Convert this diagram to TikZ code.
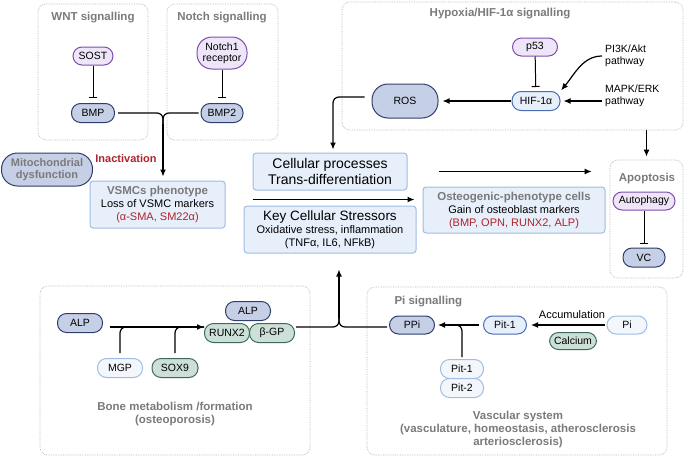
\documentclass[tikz,border=0pt]{standalone}
\usepackage{fontspec}
\setmainfont{Liberation Sans}
\usetikzlibrary{arrows.meta}
\definecolor{navy}{HTML}{2F3F6B}
\definecolor{slate}{HTML}{C5CFE6}
\definecolor{violet}{HTML}{7E4EAD}
\definecolor{lilac}{HTML}{EEE6F8}
\definecolor{skyline}{HTML}{9FBDE2}
\definecolor{sky}{HTML}{E6EFFA}
\definecolor{hifline}{HTML}{4A6DB3}
\definecolor{sage}{HTML}{CDE0D8}
\definecolor{pine}{HTML}{3E6A5E}
\definecolor{pale}{HTML}{F3F7FB}
\definecolor{caption}{HTML}{7A7A7A}
\definecolor{marker}{HTML}{B0232A}
\definecolor{frame}{HTML}{B3B3B3}
\newcommand{\boxhead}[1]{{\fontsize{11.5}{13}\selectfont\bfseries\color{caption}#1}}

\begin{document}
\begin{tikzpicture}[x=1pt,y=-1pt,
  group/.style={draw=frame,densely dotted,line width=0.7pt,rounded corners=8pt},
  title/.style={font=\fontsize{11.5}{13}\selectfont\bfseries,text=caption,align=center},
  pill/.style={draw,rectangle,rounded corners=9pt,line width=1pt,minimum height=19pt,
    inner sep=1pt,align=center,font=\fontsize{10.5}{12}\selectfont},
  slatepill/.style={pill,fill=slate,draw=navy},
  purplepill/.style={pill,fill=lilac,draw=violet},
  skypill/.style={pill,fill=sky,draw=hifline},
  greenpill/.style={pill,fill=sage,draw=pine},
  palepill/.style={pill,fill=pale,draw=skyline},
  panel/.style={draw=skyline,fill=sky,line width=1pt,rounded corners=3pt,align=center,
    inner sep=2pt,font=\fontsize{11}{13}\selectfont},
  arrow/.style={-{Latex[length=7pt,width=6pt]},line width=1.2pt},
  inhibit/.style={-{Bar[width=8pt]},line width=1pt},
  link/.style={line width=1.2pt,rounded corners=6pt}
]
\useasboundingbox (0,0) rectangle (685,461);

% signalling groups
\node[group,minimum width=110pt,minimum height=136pt] (wntbox) at (93,72) {};
\node[group,minimum width=111pt,minimum height=136pt] (notchbox) at (222.5,72) {};
\node[group,minimum width=341pt,minimum height=128pt] (hypbox) at (512.5,66) {};
\node[group,minimum width=73pt,minimum height=118pt] (apobox) at (646.5,219) {};
\node[group,minimum width=270pt,minimum height=169pt] (bonebox) at (175,370.5) {};
\node[group,minimum width=300pt,minimum height=168pt] (pibox) at (517,371) {};

\node[title] (wnttitle) at (93,18) {WNT signalling};
\node[title] (notchtitle) at (222,18) {Notch signalling};
\node[title] (hyptitle) at (500,14) {Hypoxia/HIF-1α signalling};
\node[title] (apotitle) at (647,179) {Apoptosis};
\node[title,anchor=west] (pititle) at (391,302) {Pi signalling};
\node[title] (bonetitle) at (175,414) {Bone metabolism /formation\\(osteoporosis)};
\node[title] (vasctitle) at (518,430) {Vascular system\\(vasculature, homeostasis, atherosclerosis\\arteriosclerosis)};

% WNT / Notch
\node[purplepill,minimum width=40pt,minimum height=18pt] (sost) at (93,56) {SOST};
\node[slatepill,minimum width=43pt] (bmp) at (93,113) {BMP};
\node[purplepill,minimum width=50pt,minimum height=32pt,rounded corners=15pt,
  font=\fontsize{10.5}{11}\selectfont] (notch) at (222,53) {Notch1\\receptor};
\node[slatepill,minimum width=42pt] (bmptwo) at (222,113) {BMP2};

\node[slatepill,minimum width=91pt,minimum height=33pt,rounded corners=16pt,
  font=\fontsize{11}{12}\selectfont\bfseries,text=caption] (mito) at (47,169.5)
  {Mitochondrial\\dysfunction};
\node[font=\fontsize{11}{13}\selectfont\bfseries,text=marker] (inact) at (126,159) {Inactivation};

% central boxes
\node[panel,minimum width=135pt,minimum height=47pt] (vsmc) at (157.5,204.5)
  {\boxhead{VSMCs phenotype}\\Loss of VSMC markers\\{\color{marker}(α-SMA, SM22α)}};
\node[panel,minimum width=154pt,minimum height=37pt,font=\fontsize{14}{16}\selectfont] (cp)
  at (330,171.5) {Cellular processes\\Trans-differentiation};
\node[panel,minimum width=172pt,minimum height=47pt] (kcs) at (330,229.5)
  {{\fontsize{13.5}{13}\selectfont Key Cellular Stressors}\\Oxidative stress, inflammation\\(TNFα, IL6, NFkB)};
\node[panel,minimum width=182pt,minimum height=46pt] (ost) at (514,210)
  {\boxhead{Osteogenic-phenotype cells}\\Gain of osteoblast markers\\{\color{marker}(BMP, OPN, RUNX2, ALP)}};

% hypoxia
\node[purplepill,minimum width=45pt,minimum height=18pt] (pfiftythree) at (535,47) {p53};
\node[skypill,minimum width=48pt] (hif) at (536,101) {HIF-1α};
\node[slatepill,minimum width=66pt,minimum height=34pt,rounded corners=16pt] (ros) at (405,101) {ROS};
\node[anchor=west,align=left,inner sep=0pt,font=\fontsize{10.5}{12}\selectfont] (pithreek) at (605,56) {PI3K/Akt\\pathway};
\node[anchor=west,align=left,inner sep=0pt,font=\fontsize{10.5}{12}\selectfont] (mapk) at (605,96) {MAPK/ERK\\pathway};

% apoptosis
\node[purplepill,minimum width=62pt,minimum height=18pt] (autophagy) at (644,201) {Autophagy};
\node[slatepill,minimum width=42pt] (vc) at (644,257.5) {VC};

% bone metabolism
\node[slatepill,minimum width=45pt] (alpa) at (80,323) {ALP};
\node[palepill,minimum width=45pt] (mgp) at (120,368) {MGP};
\node[greenpill,minimum width=46pt] (sox) at (175,368) {SOX9};
\node[slatepill,minimum width=45pt] (alpb) at (248,311) {ALP};
\node[greenpill,minimum width=45pt] (runx) at (227,333) {RUNX2};
\node[greenpill,minimum width=45pt] (bgp) at (272,333) {β-GP};

% Pi signalling
\node[slatepill,minimum width=45pt,minimum height=18pt] (ppi) at (412,325) {PPi};
\node[skypill,minimum width=43pt,minimum height=18pt] (pitone) at (505,325) {Pit-1};
\node[palepill,minimum width=40pt,minimum height=18pt] (pi) at (627,325) {Pi};
\node[greenpill,minimum width=47pt,minimum height=17pt] (calcium) at (573,341) {Calcium};
\node[font=\fontsize{11}{13}\selectfont] (accum) at (572,315) {Accumulation};
\node[palepill,minimum width=43pt,minimum height=19pt] (pitb) at (462,369) {Pit-1};
\node[palepill,minimum width=43pt,minimum height=19pt] (pittwo) at (462,388) {Pit-2};

% connectors
\draw[inhibit,shorten >=5pt] (sost) -- (bmp);
\draw[inhibit,shorten >=5pt] (notch) -- (bmptwo);
\coordinate (wntjoin) at (163,124);
\draw[link,shorten <=3pt] (bmp.east) -| (wntjoin);
\draw[link,shorten <=2pt] (bmptwo.west) -| (wntjoin);
\draw[arrow,shorten >=4pt] (wntjoin) -- (wntjoin |- vsmc.north);

\draw[inhibit,shorten >=4pt] (pfiftythree) -- (hif);
\draw[arrow,shorten <=3pt,shorten >=1pt] (pithreek.west) to[out=180,in=50] (hif.north east);
\draw[arrow,shorten <=3pt,shorten >=3pt] (mapk.west |- hif.east) -- (hif.east);
\draw[arrow,shorten <=1pt,shorten >=4pt] (hif) -- (ros);
\draw[arrow,link,shorten <=7pt,shorten >=3pt] ([yshift=4pt]ros.west) -| ([xshift=3pt]cp.north);

\draw[arrow,shorten >=3pt] (hypbox.south -| apobox.north) -- (apobox.north);
\draw[arrow,shorten <=31pt,shorten >=18pt] (cp.east) -- (cp.east -| apobox.west);
\draw[arrow,shorten <=9pt,shorten >=8pt] ([yshift=6pt]kcs.north west) -- ([yshift=6pt]kcs.north west -| ost.west);
\draw[inhibit,shorten >=4pt] (autophagy) -- (vc);

\draw[arrow,shorten <=7pt] ([yshift=-4pt]alpa.east) -- ([yshift=-4pt]alpa.east -| runx.west);
\draw[link,shorten <=5pt] (mgp.north) |- ([yshift=-4pt]alpa.east -| runx.west);
\draw[link,shorten <=5pt] (sox.north) |- ([yshift=-4pt]alpa.east -| runx.west);

\coordinate (bonejoin) at (339,318);
\draw[link,shorten <=1pt] ([yshift=6pt]bgp.east) -| (bonejoin);
\draw[link,shorten <=2pt] ([yshift=-2pt]ppi.west) -| (bonejoin);
\draw[arrow,shorten >=16pt] (bonejoin) -- (bonejoin |- kcs.south);

\draw[arrow,shorten <=2pt,shorten >=4pt] (pi) -- (pitone);
\draw[arrow,shorten <=4pt,shorten >=3pt] (pitone) -- (ppi);
\draw[link,shorten <=2pt,shorten >=10pt] (pitb.north) |- (ppi.east);
\end{tikzpicture}
\end{document}
